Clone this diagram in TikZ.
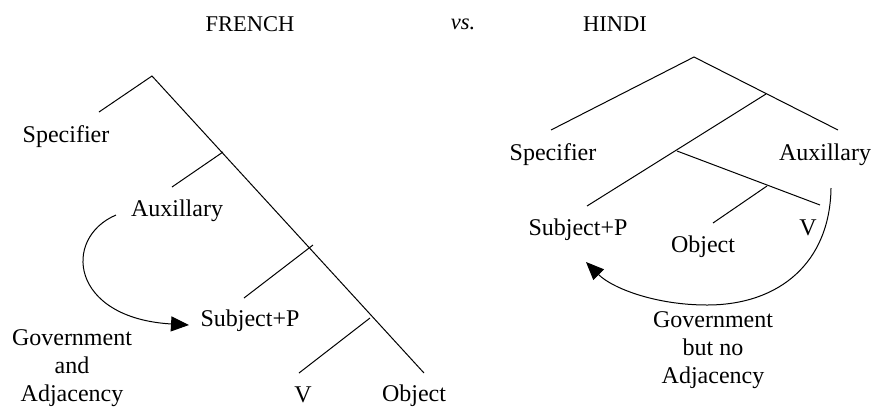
\documentclass[tikz,border=0pt]{standalone}
\usepackage{fontspec}
\setmainfont{Liberation Serif}
\usetikzlibrary{arrows.meta}
\tikzset{
  branch/.style={line width=1pt},
  lbl/.style={inner sep=0pt, font=\fontsize{24}{28}\selectfont},
  ttl/.style={inner sep=0pt, font=\fontsize{22.5}{26}\selectfont},
  govarrow/.style={line width=1pt, -{Triangle[length=18pt,width=15pt]}},
}
\begin{document}
\begin{tikzpicture}[x=1pt,y=-1pt]
\useasboundingbox (0,0) rectangle (874,408);
% titles
\node[ttl] (french) at (250,24) {FRENCH};
\node[ttl] (vs) at (463,24) {\itshape vs.};
\node[ttl] (hindi) at (615,24) {HINDI};

% ---------- FRENCH tree ----------
\coordinate (L0) at (152,76);
\coordinate (Ls) at (99,112);
\coordinate (Lend) at (424,373);
\coordinate (L1) at (223,152);
\coordinate (L1e) at (172,187);
\coordinate (L2) at (313,245);
\coordinate (L2e) at (244,298);
\coordinate (L3) at (370,318);
\coordinate (L3e) at (299,373);
\draw[branch] (Ls) -- (L0) -- (Lend);
\draw[branch] (L1) -- (L1e);
\draw[branch] (L2) -- (L2e);
\draw[branch] (L3) -- (L3e);

\node[lbl] (lspec) at (66,137) {Specifier};
\node[lbl] (laux) at (177,211) {Auxillary};
\node[lbl] (lsubj) at (250,321) {Subject+P};
\node[lbl] (lv) at (303,395) {V};
\node[lbl] (lobj) at (414,396) {Object};
\node[lbl, align=center] (lgov) at (72,368) {Government\\and\\Adjacency};

\coordinate (la) at (116,215);
\coordinate (lb) at (189,325);
\draw[govarrow] (la) .. controls (62,238) and (70,318) .. (lb);

% ---------- HINDI tree ----------
\coordinate (R0) at (694,57);
\coordinate (Rs) at (551,130);
\coordinate (Ra) at (838,130);
\coordinate (R1) at (766,94);
\coordinate (RS) at (587,206);
\coordinate (R2) at (677,151);
\coordinate (RV) at (820,205);
\coordinate (R3) at (767,186);
\coordinate (RO) at (713,223);
\draw[branch] (Rs) -- (R0) -- (Ra);
\draw[branch] (R1) -- (RS);
\draw[branch] (R2) -- (RV);
\draw[branch] (R3) -- (RO);

\node[lbl] (rspec) at (553,155) {Specifier};
\node[lbl] (raux) at (825,155) {Auxillary};
\node[lbl] (rsubj) at (578,230) {Subject+P};
\node[lbl] (robj) at (703,247) {Object};
\node[lbl] (rv) at (808,228) {V};
\node[lbl, align=center] (rgov) at (713,350) {Government\\but no\\Adjacency};

\coordinate (ra) at (831,188);
\coordinate (rm) at (707,305);
\coordinate (rb) at (586,262);
\draw[govarrow] (ra) .. controls (830,262) and (780,305) .. (rm)
  .. controls (655,305) and (612,288) .. (rb);
\end{tikzpicture}
\end{document}
